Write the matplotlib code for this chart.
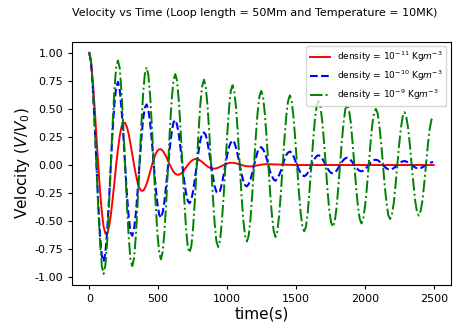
import numpy as np
import matplotlib
matplotlib.use("Agg")
import matplotlib.pyplot as plt

# sample times (s), every 13 s
t = np.arange(0, 2497, 13)

# density = 1e-9 (green, dash-dot), one row per oscillation
v_1e9 = [
    1.00, 0.92, 0.70, 0.38, 0.00, -0.38, -0.69, -0.90, -0.97, -0.89, -0.68, -0.37, 0.00, 0.36, 0.67, 0.87,
    0.93, 0.86, 0.65, 0.35, 0.00, -0.35, -0.64, -0.84, -0.90, -0.83, -0.63, -0.34, 0.00, 0.34, 0.62, 0.81,
    0.87, 0.80, 0.61, 0.33, 0.00, -0.33, -0.60, -0.78, -0.84, -0.77, -0.59, -0.32, 0.00, 0.32, 0.58, 0.75,
    0.81, 0.75, 0.57, 0.31, 0.00, -0.30, -0.56, -0.73, -0.78, -0.72, -0.55, -0.30, 0.00, 0.29, 0.54, 0.70,
    0.76, 0.70, 0.53, 0.29, 0.00, -0.28, -0.52, -0.68, -0.73, -0.67, -0.51, -0.28, 0.00, 0.27, 0.50, 0.66,
    0.71, 0.65, 0.50, 0.27, 0.00, -0.27, -0.49, -0.63, -0.68, -0.63, -0.48, -0.26, 0.00, 0.26, 0.47, 0.61,
    0.66, 0.61, 0.46, 0.25, 0.00, -0.25, -0.45, -0.59, -0.64, -0.59, -0.45, -0.24, 0.00, 0.24, 0.44, 0.57,
    0.62, 0.57, 0.43, 0.23, 0.00, -0.23, -0.42, -0.55, -0.59, -0.55, -0.42, -0.22, 0.00, 0.22, 0.41, 0.53,
    0.57, 0.53, 0.40, 0.22, 0.00, -0.22, -0.40, -0.51, -0.55, -0.51, -0.39, -0.21, 0.00, 0.21, 0.38, 0.50,
    0.54, 0.49, 0.38, 0.20, 0.00, -0.20, -0.37, -0.48, -0.52, -0.48, -0.36, -0.20, 0.00, 0.19, 0.36, 0.46,
    0.50, 0.46, 0.35, 0.19, 0.00, -0.19, -0.34, -0.45, -0.48, -0.44, -0.34, -0.18, 0.00, 0.18, 0.33, 0.43,
    0.47, 0.43, 0.33, 0.18, 0.00, -0.17, -0.32, -0.42, -0.45, -0.41, -0.32, -0.17, 0.00, 0.17, 0.31, 0.40,
    0.44,
]

# density = 1e-10 (blue, dashed)
v_1e10 = [
    1.00, 0.91, 0.68, 0.36, 0.00, -0.35, -0.63, -0.81, -0.86, -0.78, -0.58, -0.31, 0.00, 0.30, 0.54, 0.69,
    0.74, 0.67, 0.50, 0.27, 0.00, -0.26, -0.46, -0.60, -0.63, -0.57, -0.43, -0.23, 0.00, 0.22, 0.40, 0.51,
    0.54, 0.49, 0.37, 0.20, 0.00, -0.19, -0.34, -0.44, -0.47, -0.42, -0.32, -0.17, 0.00, 0.16, 0.29, 0.38,
    0.40, 0.36, 0.27, 0.14, 0.00, -0.14, -0.25, -0.32, -0.34, -0.31, -0.23, -0.12, 0.00, 0.12, 0.22, 0.28,
    0.29, 0.27, 0.20, 0.11, 0.00, -0.10, -0.19, -0.24, -0.25, -0.23, -0.17, -0.09, 0.00, 0.09, 0.16, 0.20,
    0.22, 0.20, 0.15, 0.08, 0.00, -0.08, -0.14, -0.18, -0.19, -0.17, -0.13, -0.07, 0.00, 0.06, 0.12, 0.15,
    0.16, 0.14, 0.11, 0.06, 0.00, -0.06, -0.10, -0.13, -0.14, -0.12, -0.09, -0.05, 0.00, 0.05, 0.09, 0.11,
    0.12, 0.11, 0.08, 0.04, 0.00, -0.04, -0.07, -0.09, -0.10, -0.09, -0.07, -0.04, 0.00, 0.04, 0.06, 0.08,
    0.087, 0.079, 0.059, 0.031, 0.0, -0.030, -0.055, -0.070, -0.074, -0.067, -0.051, -0.027, 0.0, 0.026, 0.047, 0.060,
    0.064, 0.058, 0.043, 0.023, 0.0, -0.022, -0.040, -0.052, -0.055, -0.050, -0.037, -0.020, 0.0, 0.019, 0.035, 0.044,
    0.047, 0.043, 0.032, 0.017, 0.0, -0.016, -0.030, -0.038, -0.040, -0.037, -0.027, -0.015, 0.0, 0.014, 0.025, 0.033,
    0.035, 0.031, 0.024, 0.013, 0.0, -0.012, -0.022, -0.028, -0.030, -0.027, -0.020, -0.011, 0.0, 0.010, 0.019, 0.024,
    0.026,
]

# density = 1e-11 (red, solid) - dies out after ~1300 s
t_1e11 = list(np.arange(0, 1301, 13)) + [1500, 1750, 2000, 2250, 2500]
v_1e11 = [
    1.00, 0.91, 0.73, 0.51, 0.25, 0.00, -0.23, -0.42, -0.55, -0.61, -0.61, -0.55, -0.45, -0.31, -0.16, 0.00, 0.14, 0.26, 0.34, 0.37,
    0.375, 0.339, 0.275, 0.190, 0.095, 0.0, -0.086, -0.156, -0.205, -0.229, -0.229, -0.208, -0.168, -0.117, -0.058, 0.0, 0.053, 0.096, 0.126, 0.140,
    0.141, 0.127, 0.103, 0.071, 0.036, 0.0, -0.032, -0.059, -0.077, -0.086, -0.086, -0.078, -0.063, -0.044, -0.022, 0.0, 0.020, 0.036, 0.047, 0.053,
    0.053, 0.048, 0.039, 0.027, 0.013, 0.0, -0.012, -0.022, -0.029, -0.032, -0.032, -0.029, -0.024, -0.016, -0.008, 0.0, 0.007, 0.013, 0.018, 0.020,
    0.020, 0.018, 0.015, 0.010, 0.005, 0.0, -0.005, -0.008, -0.011, -0.012, -0.012, -0.011, -0.009, -0.006, -0.003, 0.0, 0.003, 0.005, 0.007, 0.007,
    0.007,
    0.0, 0.0, 0.0, 0.0, 0.0,
]

fig = plt.figure(figsize=(4.62, 3.33), dpi=100)
ax = fig.add_axes([0.156, 0.144, 0.82, 0.731])

ax.plot(t_1e11, v_1e11, color='red', lw=1.4, label=r'density = $10^{-11}$ Kg$m^{-3}$')
ax.plot(t, v_1e10, color='blue', ls='--', lw=1.5, label=r'density = $10^{-10}$ Kg$m^{-3}$')
ax.plot(t, v_1e9, color='green', ls='-.', lw=1.4, label=r'density = $10^{-9}$ Kg$m^{-3}$')

ax.set_xticks([0, 500, 1000, 1500, 2000, 2500])
ax.set_yticks([1.0, 0.75, 0.5, 0.25, 0.0, -0.25, -0.5, -0.75, -1.0])
ax.yaxis.set_major_formatter(matplotlib.ticker.FormatStrFormatter('%.2f'))
ax.tick_params(labelsize=8, length=3)
ax.set_xlabel('time(s)', fontsize=11, labelpad=2)
ax.set_ylabel(r'Velocity ($V/V_0$)', fontsize=11, labelpad=2)
ax.legend(loc='upper right', fontsize=6.5, handlelength=2.2)

fig.text(0.552, 0.96, 'Velocity vs Time (Loop length = 50Mm and Temperature = 10MK)',
         ha='center', va='center', fontsize=8)

fig.savefig('out.png', dpi=100)
